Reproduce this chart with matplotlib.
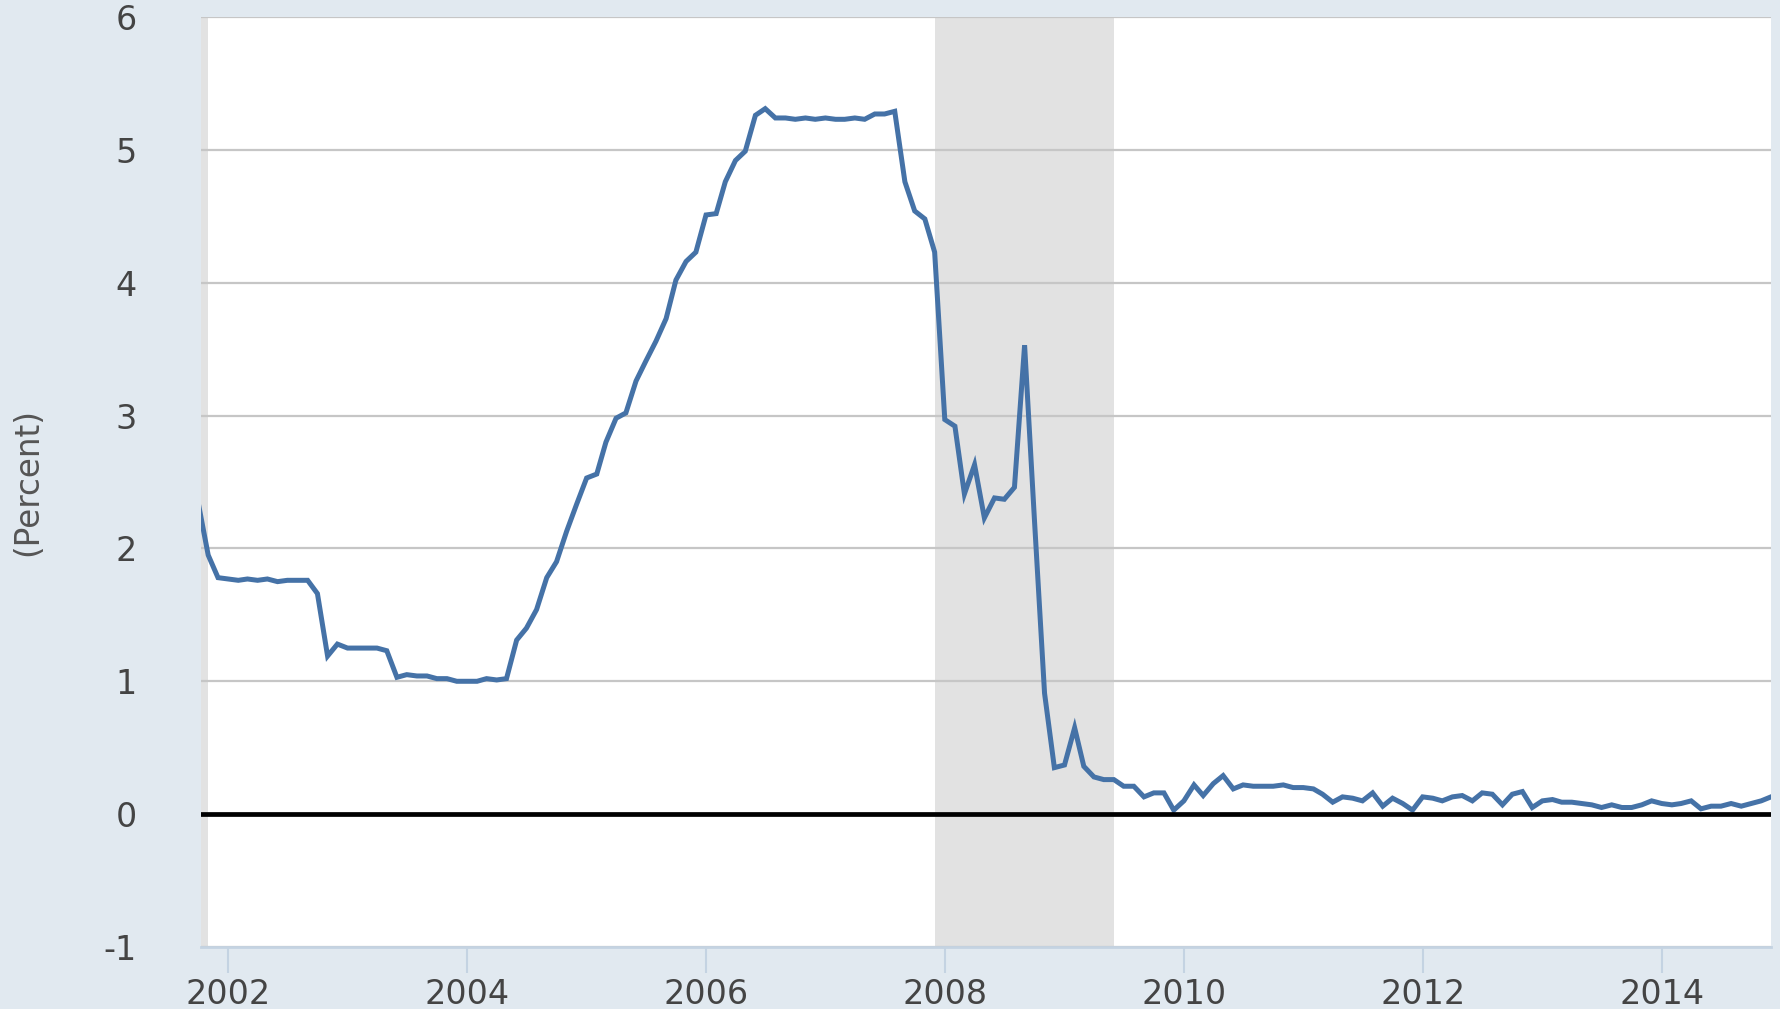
import matplotlib
matplotlib.use("Agg")
import matplotlib.pyplot as plt
import matplotlib.dates as mdates
import pandas as pd
import datetime as dt

# ---------------- data ----------------
start_month = "2001-10-01"
end_month = "2014-12-01"
rate_pct = [
    2.35, 1.95, 1.78, 1.77, 1.76, 1.77, 1.76, 1.77, 1.75, 1.76, 1.76, 1.76,   # 2001-10 .. 2002-09
    1.66, 1.19, 1.28, 1.25, 1.25, 1.25, 1.25, 1.23, 1.03, 1.05, 1.04, 1.04,   # 2002-10 .. 2003-09
    1.02, 1.02, 1.00, 1.00, 1.00, 1.02, 1.01, 1.02, 1.31, 1.40, 1.54, 1.78,   # 2003-10 .. 2004-09
    1.90, 2.13, 2.33, 2.53, 2.56, 2.80, 2.98, 3.02, 3.26, 3.41, 3.56, 3.73,   # 2004-10 .. 2005-09
    4.02, 4.16, 4.23, 4.51, 4.52, 4.76, 4.92, 4.99, 5.26, 5.31, 5.24, 5.24,   # 2005-10 .. 2006-09
    5.23, 5.24, 5.23, 5.24, 5.23, 5.23, 5.24, 5.23, 5.27, 5.27, 5.29, 4.76,   # 2006-10 .. 2007-09
    4.54, 4.48, 4.23, 2.97, 2.92, 2.41, 2.63, 2.23, 2.38, 2.37, 2.46, 3.53,   # 2007-10 .. 2008-09
    2.22, 0.91, 0.35, 0.37, 0.65, 0.36, 0.28, 0.26, 0.26, 0.21, 0.21, 0.13,   # 2008-10 .. 2009-09
    0.16, 0.16, 0.03, 0.10, 0.22, 0.14, 0.23, 0.29, 0.19, 0.22, 0.21, 0.21,   # 2009-10 .. 2010-09
    0.21, 0.22, 0.20, 0.20, 0.19, 0.15, 0.09, 0.13, 0.12, 0.10, 0.16, 0.06,   # 2010-10 .. 2011-09
    0.12, 0.08, 0.03, 0.13, 0.12, 0.10, 0.13, 0.14, 0.10, 0.16, 0.15, 0.07,   # 2011-10 .. 2012-09
    0.15, 0.17, 0.05, 0.10, 0.11, 0.09, 0.09, 0.08, 0.07, 0.05, 0.07, 0.05,   # 2012-10 .. 2013-09
    0.05, 0.07, 0.10, 0.08, 0.07, 0.08, 0.10, 0.04, 0.06, 0.06, 0.08, 0.06,   # 2013-10 .. 2014-09
    0.08, 0.10, 0.13,                                                         # 2014-10 .. 2014-12
]
recessions = [("2001-03-01", "2001-11-01"), ("2007-12-01", "2009-06-01")]
y_ticks = [-1, 0, 1, 2, 3, 4, 5, 6]
x_tick_years = [2002, 2004, 2006, 2008, 2010, 2012, 2014]
y_label = "(Percent)"
view_start = "2001-10-10"

dates = pd.date_range(start_month, end_month, freq="MS")

# ---------------- figure ----------------
W, H = 1781, 1009
fig = plt.figure(figsize=(W / 100, H / 100), dpi=100)
bg = "#e1e9f0"
fig.patch.set_facecolor(bg)

left, right, top, bottom = 201, 1771, 17, 947
ax = fig.add_axes([left / W, 1 - bottom / H, (right - left) / W, (bottom - top) / H])
ax.set_facecolor("white")

x0 = pd.Timestamp(view_start)
x1 = pd.Timestamp(end_month)
ax.set_xlim(x0, x1)
ax.set_ylim(-1, 6)

for a, b in recessions:
    ax.axvspan(pd.Timestamp(a), pd.Timestamp(b), color="#e2e2e2", zorder=0.2, lw=0)

ax.set_axisbelow(True)
ax.set_yticks(y_ticks)
ax.set_yticklabels([str(v) for v in y_ticks])
ax.grid(axis="y", color="#c6c6c6", lw=1.6, zorder=0.5)
ax.grid(axis="x", visible=False)

ax.plot(dates, rate_pct, color="#4572a7", lw=3.6, zorder=3, solid_joinstyle="miter")
ax.axhline(0, color="black", lw=3.4, zorder=4)

ax.set_xticks([pd.Timestamp(f"{y}-01-01") for y in x_tick_years])
ax.set_xticklabels([str(y) for y in x_tick_years])

for s in ["top", "right", "left"]:
    ax.spines[s].set_visible(False)
ax.spines["bottom"].set_color("#c4d3e2")
ax.spines["bottom"].set_linewidth(2)
ax.spines["bottom"].set_zorder(5)

ax.tick_params(axis="y", length=0, pad=46, labelsize=24, labelcolor="#444444")
ax.tick_params(axis="x", direction="out", length=19, width=1.5, color="#c4d3e2",
               pad=3, labelsize=24, labelcolor="#444444")

fig.text(28 / W, 1 - 482 / H, y_label, rotation=90, ha="center", va="center",
         fontsize=23.5, color="#555555")

fig.savefig("out.png", dpi=100, facecolor=bg)
